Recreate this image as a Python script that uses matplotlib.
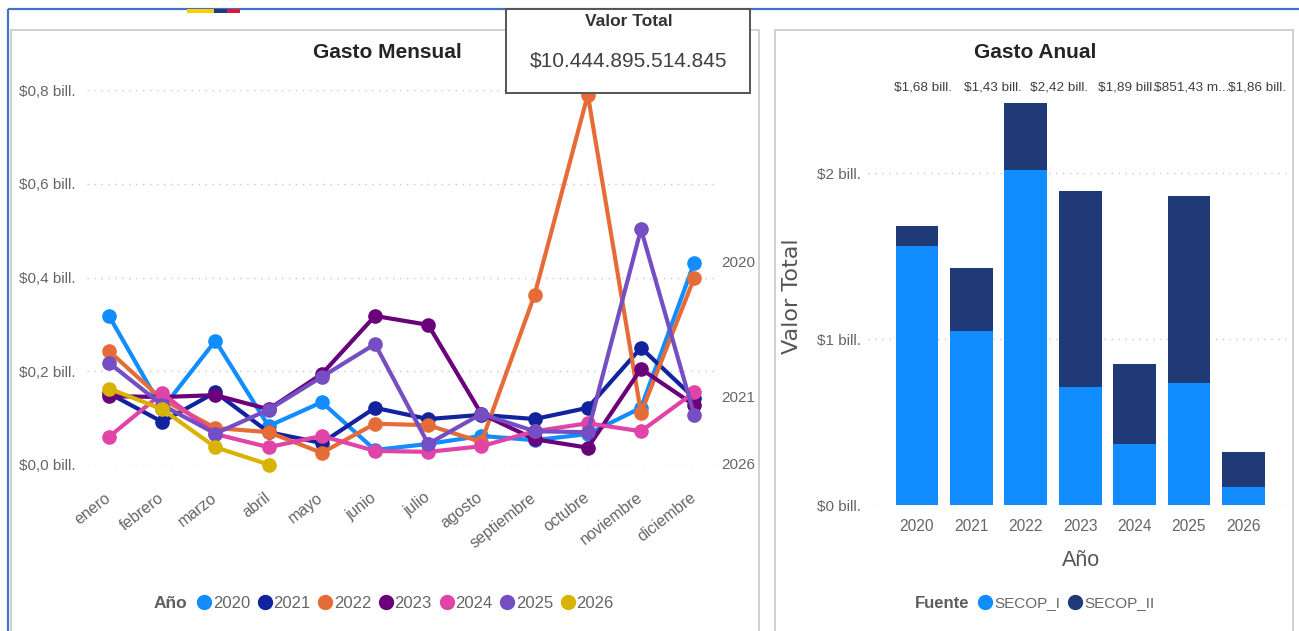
import matplotlib
matplotlib.use("Agg")
import matplotlib.pyplot as plt
from matplotlib.lines import Line2D
from matplotlib.patches import Rectangle
from matplotlib.transforms import ScaledTranslation

W, H = 1299, 631
FUENTE = ['Liberation Sans', 'DejaVu Sans']

meses = ['enero', 'febrero', 'marzo', 'abril', 'mayo', 'junio', 'julio', 'agosto',
         'septiembre', 'octubre', 'noviembre', 'diciembre']

g2020 = [0.318, 0.120, 0.265, 0.083, 0.134, 0.032, 0.045, 0.062, 0.053, 0.066, 0.122, 0.431]
g2021 = [0.153, 0.092, 0.155, 0.070, 0.047, 0.122, 0.098, 0.107, 0.098, 0.122, 0.250, 0.143]
g2022 = [0.243, 0.140, 0.079, 0.070, 0.026, 0.088, 0.085, 0.049, 0.363, 0.790, 0.111, 0.399]
g2023 = [0.147, 0.145, 0.149, 0.119, 0.194, 0.318, 0.299, 0.109, 0.055, 0.037, 0.205, 0.128]
g2024 = [0.060, 0.153, 0.066, 0.038, 0.062, 0.030, 0.028, 0.040, 0.072, 0.089, 0.072, 0.155]
g2025 = [0.218, 0.128, 0.067, 0.118, 0.188, 0.258, 0.045, 0.109, 0.072, 0.070, 0.503, 0.107]
g2026 = [0.163, 0.119, 0.038, 0.001]

series = [g2020, g2021, g2022, g2023, g2024, g2025, g2026]
anios_linea = ['2020', '2021', '2022', '2023', '2024', '2025', '2026']
colores = ['#118DFF', '#12239E', '#E66C37', '#6B007B', '#E044A7', '#744EC2', '#D9B300']

anios = ['2020', '2021', '2022', '2023', '2024', '2025', '2026']
secop_1 = [1.56, 1.05, 2.02, 0.71, 0.37, 0.735, 0.11]
secop_2 = [0.12, 0.38, 0.40, 1.18, 0.481, 1.125, 0.21]
etiquetas = ['$1,68 bill.', '$1,43 bill.', '$2,42 bill.', '$1,89 bill.',
             '$851,43 m...', '$1,86 bill.']
etiqueta_x = [923, 993, 1059, 1127, 1192, 1257]

GRIS = '#666666'


def axes_px(fig, x0, y0, x1, y1, **kw):
    return fig.add_axes([x0 / W, 1 - y1 / H, (x1 - x0) / W, (y1 - y0) / H], **kw)


fig = plt.figure(figsize=(W / 100, H / 100), dpi=100, facecolor='white')

# fondo en pixeles: marcos y bandera
bg = axes_px(fig, 0, 0, W, H)
bg.set_xlim(0, W)
bg.set_ylim(H, 0)
bg.axis('off')
bg.add_patch(Rectangle((8, 9), W + 20, H, fc='none', ec='#4472C4', lw=1.6))
bg.add_patch(Rectangle((11, 30), 748, H, fc='white', ec='#C8C8C8', lw=1.2))
bg.add_patch(Rectangle((775, 30), 518, H, fc='white', ec='#C8C8C8', lw=1.2))
bg.add_patch(Rectangle((187, 9), 27, 4, fc='#FFCD00', ec='none'))
bg.add_patch(Rectangle((214, 9), 13, 4, fc='#22397F', ec='none'))
bg.add_patch(Rectangle((227, 9), 13, 4, fc='#E0173C', ec='none'))

# Gasto mensual
ax = axes_px(fig, 87, 90, 715, 465)
ax.patch.set_alpha(0)
ax.set_xlim((87 - 109) / 53.2, (715 - 109) / 53.2)
ax.set_ylim(0, 0.8)
for vals, anio, color in zip(series, anios_linea, colores):
    ax.plot(range(len(vals)), vals, color=color, lw=3, marker='o', ms=9.5, clip_on=False,
            solid_joinstyle='round', label=anio)
ax.set_yticks([0, 0.2, 0.4, 0.6, 0.8])
ax.set_yticklabels(['$0,0 bill.', '$0,2 bill.', '$0,4 bill.', '$0,6 bill.', '$0,8 bill.'],
                   family=FUENTE, fontsize=11, color=GRIS)
ax.set_xticks(range(12))
ax.set_xticklabels(meses, rotation=38, ha='right', rotation_mode='anchor',
                   family=FUENTE, fontsize=11.5, color=GRIS)
ax.tick_params(length=0)
ax.tick_params(axis='x', pad=18)
ax.tick_params(axis='y', pad=8.6)
corrimiento = ScaledTranslation(-5 / 100, 0, fig.dpi_scale_trans)
for lbl in ax.get_xticklabels():
    lbl.set_transform(lbl.get_transform() + corrimiento)
ax.grid(axis='y', color='#C8C8C8', ls=(0, (1, 4)), lw=1)
ax.set_axisbelow(True)
for s in ax.spines.values():
    s.set_visible(False)

h1 = [Line2D([], [], ls='none', marker='o', ms=10, color=c) for c in colores]
ax.legend(h1, anios_linea, ncol=7, frameon=False, loc='center left',
          bbox_to_anchor=((196 - 87) / 628, (465 - 603) / 375), handletextpad=0, columnspacing=0.4,
          handlelength=1.0, borderpad=0, borderaxespad=0,
          prop={'family': FUENTE, 'size': 12}, labelcolor=GRIS)

# Gasto anual
ax2 = axes_px(fig, 868, 90, 1287, 505)
ax2.patch.set_alpha(0)
ax2.set_xlim((868 - 917) / 54.4, (1287 - 917) / 54.4)
ax2.set_ylim(0, 415 / 166)
pos = range(len(anios))
ax2.bar(pos, secop_1, width=0.79, color='#118DFF')
ax2.bar(pos, secop_2, width=0.79, bottom=secop_1, color='#203A78')
ax2.set_yticks([0, 1, 2])
ax2.set_yticklabels(['$0 bill.', '$1 bill.', '$2 bill.'], family=FUENTE, fontsize=11, color=GRIS)
ax2.set_xticks(list(pos))
ax2.set_xticklabels(anios, family=FUENTE, fontsize=11.2, color=GRIS)
ax2.tick_params(length=0)
ax2.tick_params(axis='x', pad=10)
ax2.tick_params(axis='y', pad=5)
ax2.grid(axis='y', color='#C8C8C8', ls=(0, (1, 4)), lw=1)
ax2.set_axisbelow(True)
for s in ax2.spines.values():
    s.set_visible(False)

h2 = [Line2D([], [], ls='none', marker='o', ms=10, color=c) for c in ['#118DFF', '#203A78']]
ax2.legend(h2, ['SECOP_I', 'SECOP_II'], ncol=2, frameon=False, loc='center left',
           bbox_to_anchor=((977 - 868) / 419, (505 - 603) / 415), handletextpad=0.15, columnspacing=0.42,
           handlelength=1.0, borderpad=0, borderaxespad=0,
           prop={'family': FUENTE, 'size': 11}, labelcolor=GRIS)

# textos y tarjeta encima de todo
top = axes_px(fig, 0, 0, W, H)
top.set_xlim(0, W)
top.set_ylim(H, 0)
top.axis('off')
top.patch.set_alpha(0)
top.text(387, 52, 'Gasto Mensual', family=FUENTE, fontsize=15, fontweight='bold',
         color='#252423', ha='center', va='center')
top.text(1035, 52, 'Gasto Anual', family=FUENTE, fontsize=15, fontweight='bold',
         color='#252423', ha='center', va='center')
top.text(170, 603, 'Año', family=FUENTE, fontsize=12.5, fontweight='bold', color='#605E5C',
         ha='center', va='center')
top.text(942, 603, 'Fuente', family=FUENTE, fontsize=12, fontweight='bold', color='#605E5C',
         ha='center', va='center')
for x, anio, y in [(738, '2020', 263), (738, '2021', 398), (738, '2026', 465)]:
    top.text(x, y, anio, family=FUENTE, fontsize=11, color=GRIS, ha='center', va='center')
for x, txt in zip(etiqueta_x, etiquetas):
    top.text(x, 88, txt, family=FUENTE, fontsize=9.7, color='#404040', ha='center', va='center')
top.text(792, 296, 'Valor Total', family='DejaVu Sans', fontsize=16, color='#555555', rotation=90,
         ha='center', va='center')
top.text(1081, 561, 'Año', family=FUENTE, fontsize=15.5, color='#555555', ha='center', va='center')
top.add_patch(Rectangle((506, 9), 244, 84, fc='white', ec='#555555', lw=1.4))
top.text(629, 22, 'Valor Total', family=FUENTE, fontsize=12.5, fontweight='bold', color='#333333',
         ha='center', va='center')
top.text(629, 61, '$10.444.895.514.845', family=FUENTE, fontsize=15, color='#404040',
         ha='center', va='center')

fig.savefig('out.png', dpi=100)
